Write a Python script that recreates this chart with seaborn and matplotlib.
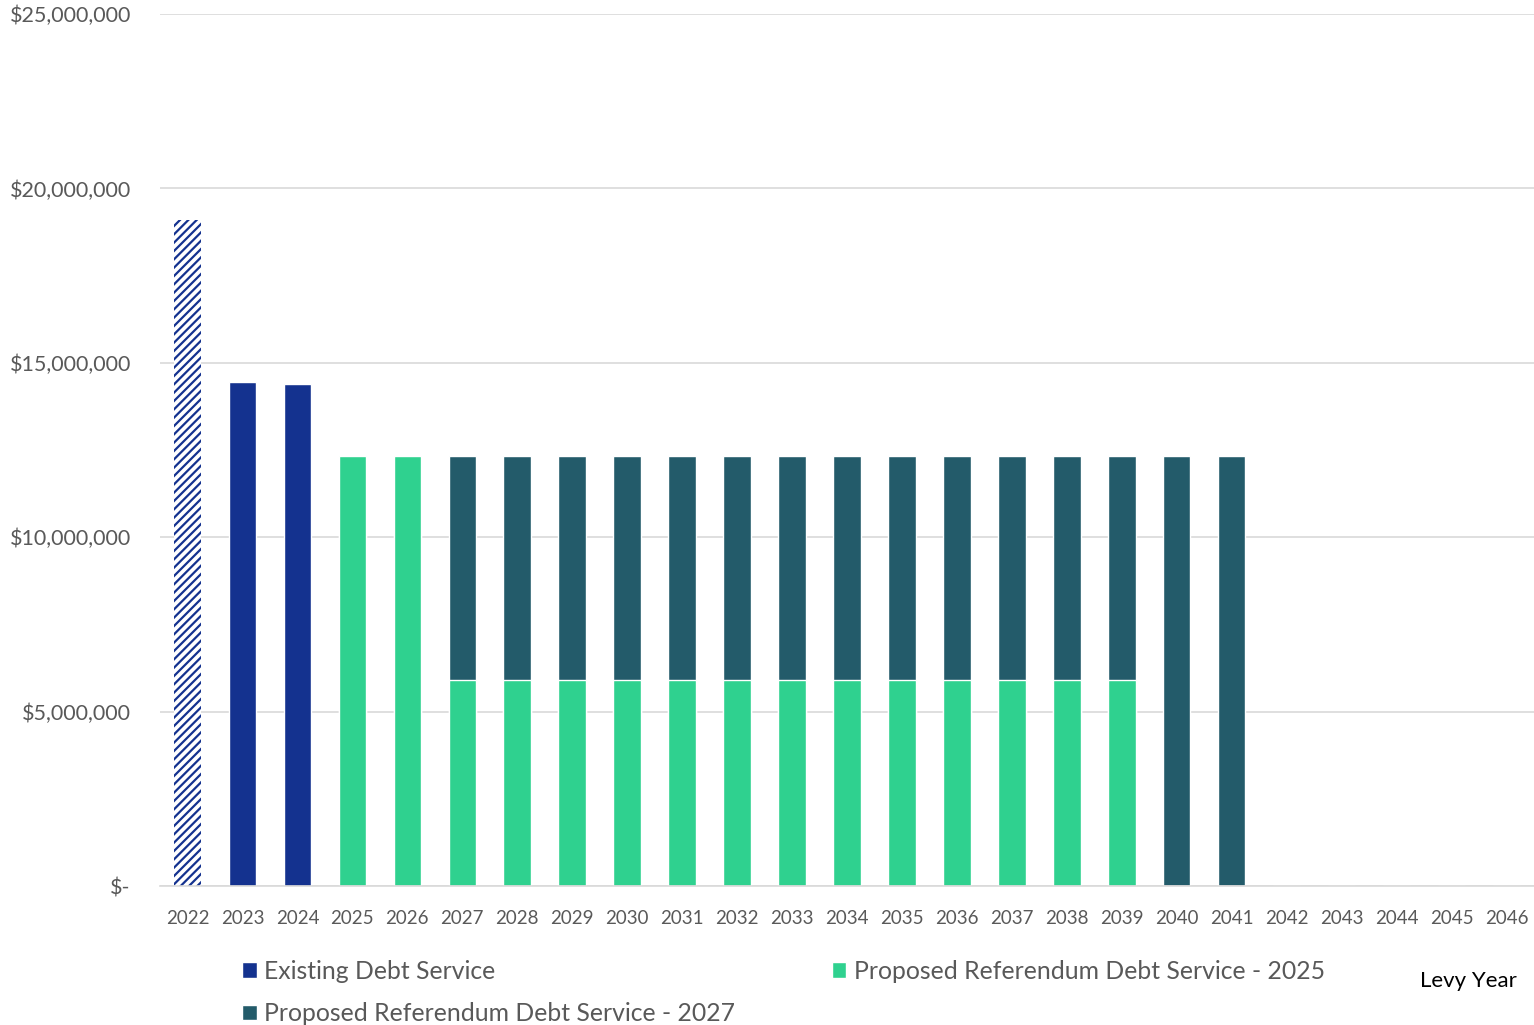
"""Levy-year debt service chart: existing vs proposed referendum debt service."""

import matplotlib.pyplot as plt
import pandas as pd
import seaborn as sns
from matplotlib.patches import Patch
from matplotlib.ticker import FuncFormatter

sns.set_theme(style="white")
plt.rcParams["font.family"] = ["Lato", "DejaVu Sans"]
plt.rcParams["hatch.linewidth"] = 1.6

YEARS = [str(y) for y in range(2022, 2047)]
EXISTING = [19_100_000, 14_450_000, 14_390_000] + [0] * 22
REF_2025 = [0, 0, 0, 12_330_000, 12_330_000] + [5_910_000] * 13 + [0] * 7
REF_2027 = [0, 0, 0, 0, 0] + [6_420_000] * 13 + [12_330_000] * 2 + [0] * 5

BLUE = "#14328f"
GREEN = "#2fd18f"
TEAL = "#235b6a"
GRAY_TEXT = "#595959"
GRID = "#d9d9d9"


def money(v, _pos):
    if v == 0:
        return "$-"
    return f"${v:,.0f}"


def main() -> None:
    df = pd.DataFrame(
        {"year": YEARS, "existing": EXISTING, "ref2025": REF_2025, "ref2027": REF_2027}
    )
    df["ref_total"] = df["ref2025"] + df["ref2027"]

    fig = plt.figure(figsize=(15.34, 10.25), dpi=100)
    ax = fig.add_axes([0.1043, 0.1356, 0.8957, 0.8507])

    # stacked by overdrawing: total referendum first, then the 2025 part
    sns.barplot(data=df, x="year", y="ref_total", color=TEAL, saturation=1, width=0.5, ax=ax)
    sns.barplot(data=df, x="year", y="ref2025", color=GREEN, saturation=1, width=0.5, ax=ax)
    sns.barplot(data=df, x="year", y="existing", color=BLUE, saturation=1, width=0.5, ax=ax)

    # 2022 existing bar is hatched
    hatched = ax.patches[-len(YEARS)]
    hatched.set_facecolor("white")
    hatched.set_edgecolor(BLUE)
    hatched.set_hatch("////")
    hatched.set_linewidth(0)

    ax.set_xlim(-0.5, len(YEARS) - 0.5)
    ax.set_ylim(0, 25_000_000)
    ax.set_yticks(range(0, 25_000_001, 5_000_000))
    ax.yaxis.set_major_formatter(FuncFormatter(money))
    ax.yaxis.grid(True, color=GRID, linewidth=1.2)
    ax.set_axisbelow(True)
    for side in ["top", "right", "left"]:
        ax.spines[side].set_visible(False)
    ax.spines["bottom"].set_color(GRID)
    ax.spines["bottom"].set_linewidth(1.2)
    ax.tick_params(axis="x", length=0, pad=17.5, labelsize=13.5, labelcolor=GRAY_TEXT)
    ax.tick_params(axis="y", length=0, pad=21, labelsize=15.5, labelcolor=GRAY_TEXT)
    ax.set_xlabel("")
    ax.set_ylabel("")

    handles = [
        Patch(facecolor=BLUE, label="Existing Debt Service"),
        Patch(facecolor=TEAL, label="Proposed Referendum Debt Service - 2027"),
        Patch(facecolor=GREEN, label="Proposed Referendum Debt Service - 2025"),
    ]
    fig.legend(
        handles=handles,
        ncol=2,
        loc="upper left",
        bbox_to_anchor=(0.1577, 0.0635),
        frameon=False,
        fontsize=17.8,
        labelcolor=GRAY_TEXT,
        handlelength=0.6,
        handleheight=0.6,
        handletextpad=0.3,
        columnspacing=3.9,
        labelspacing=0.78,
        borderaxespad=0,
        borderpad=0,
    )
    fig.text(0.989, 1 - 981 / 1025, "Levy Year", ha="right", va="center", fontsize=16, color="black")

    fig.savefig("out.png", dpi=100)
    plt.close(fig)


if __name__ == "__main__":
    main()
